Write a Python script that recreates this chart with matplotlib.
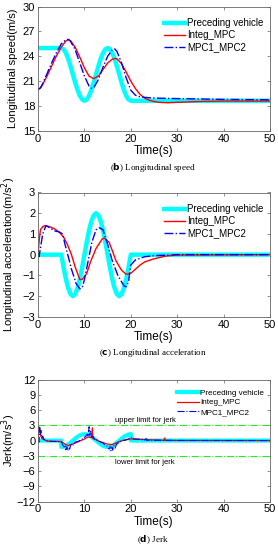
import matplotlib.pyplot as plt

plt.rcParams['font.family'] = ['Liberation Sans', 'DejaVu Sans']

# ---- (b) longitudinal speed ----
t_pv = [0, 5, 5.5, 6, 6.5, 7, 7.5, 8, 8.5, 9, 9.5, 10, 10.5, 11, 11.5, 12, 12.5,
        13, 13.5, 14, 14.5, 15, 15.5, 16, 16.5, 17, 17.5, 18, 18.5, 19, 19.5, 20, 50]
v_pv = [25, 25, 24.84, 24.39, 23.69, 22.80, 21.82, 20.84, 19.95, 19.25, 18.80, 18.64,
        18.80, 19.25, 19.95, 20.84, 21.82, 22.80, 23.69, 24.39, 24.84, 25.0, 24.84, 24.39,
        23.69, 22.80, 21.82, 20.84, 19.95, 19.25, 18.80, 18.64, 18.64]

t_int_v = [0, 0.5, 1, 2, 3, 4, 5, 6, 6.5, 7, 8, 9, 10, 11, 12, 13, 14, 15, 16, 16.7, 17,
           18, 19, 20, 21, 22, 23, 24, 25, 26, 28, 30, 35, 40, 50]
v_int = [20.0, 20.15, 20.6, 21.7, 22.9, 24.1, 25.1, 25.85, 26.0, 25.9, 25.1, 23.9, 22.6,
         21.6, 21.3, 21.6, 22.4, 23.2, 23.65, 23.75, 23.7, 23.1, 22.1, 21.0, 20.1, 19.4,
         18.95, 18.7, 18.55, 18.45, 18.4, 18.45, 18.55, 18.6, 18.6]

t_mpc_v = [0, 0.5, 1, 2, 3, 4, 5, 6, 6.5, 7, 8, 9, 10, 11, 11.5, 12, 13, 14, 15, 16, 16.5,
           17, 18, 19, 20, 21, 22, 24, 26, 30, 40, 50]
v_mpc = [20.0, 20.2, 20.7, 22.0, 23.3, 24.5, 25.5, 26.0, 26.05, 25.8, 24.8, 23.2, 21.6,
         20.4, 20.15, 20.2, 21.2, 22.7, 24.0, 24.8, 24.9, 24.6, 23.2, 21.4, 19.9, 19.3,
         19.1, 19.0, 18.95, 18.9, 18.8, 18.75]

# ---- (c) longitudinal acceleration ----
t_pv_a = [0, 5, 5.5, 6, 6.5, 7, 7.5, 8, 8.5, 9, 9.5, 10, 10.5, 11, 11.5, 12, 12.5, 13,
          13.5, 14, 14.5, 15, 15.5, 16, 16.5, 17, 17.5, 18, 18.5, 19, 19.5, 20, 50]
a_pv = [0, 0, -0.62, -1.18, -1.62, -1.90, -2.0, -1.90, -1.62, -1.18, -0.62, 0, 0.62,
        1.18, 1.62, 1.90, 2.0, 1.90, 1.62, 1.18, 0.62, 0, -0.62, -1.18, -1.62, -1.90,
        -2.0, -1.90, -1.62, -1.18, -0.62, 0, 0]

t_int_a = [0, 0.2, 0.5, 1, 1.5, 2.5, 3.5, 4.5, 5.5, 6.3, 7.2, 8, 9, 9.5, 10.5, 11.3,
           12.5, 13.8, 14.3, 15.3, 16, 16.8, 18, 19, 20, 21, 22, 23, 25, 27.5, 30, 50]
a_int = [0, 0.6, 1.2, 1.35, 1.4, 1.35, 1.25, 1.1, 0.85, 0.5, 0, -0.6, -1.2, -1.2, -0.9,
         -0.35, 0.3, 0.75, 0.8, 0.6, 0.2, -0.3, -0.75, -0.95, -0.9, -0.7, -0.5, -0.35,
         -0.2, -0.07, -0.02, 0]

t_mpc_a = [0, 0.2, 0.5, 1, 1.7, 2.5, 3.5, 4.5, 5.3, 5.8, 6.4, 7.2, 8.2, 9, 9.5, 10, 10.8,
           11.6, 12.5, 13.2, 14, 15, 16, 17.2, 18.5, 19, 19.5, 20, 21, 23, 25, 30, 50]
a_mpc = [0, -0.1, 0.3, 1.0, 1.4, 1.3, 1.15, 1.1, 1.0, 0.5, 0, -0.7, -1.4, -1.65, -1.6,
         -1.2, -0.3, 0.6, 1.2, 1.3, 1.2, 0.5, -0.3, -1.0, -1.5, -1.55, -1.3, -0.5, -0.25,
         -0.1, -0.05, 0, 0]

# ---- (d) jerk ----
t_pv_j = [0, 4.99, 5, 5.5, 6, 6.5, 7, 7.5, 8, 8.5, 9, 9.5, 10, 10.5, 11, 11.5, 12, 12.5,
          13, 13.5, 14, 14.5, 15, 15.5, 16, 16.5, 17, 17.5, 18, 18.5, 19, 19.5, 20, 20.01, 50]
j_pv = [0, 0, -1.26, -1.20, -1.02, -0.74, -0.39, 0, 0.39, 0.74, 1.02, 1.20, 1.26, 1.20,
        1.02, 0.74, 0.39, 0, -0.39, -0.74, -1.02, -1.20, -1.26, -1.20, -1.02, -0.74,
        -0.39, 0, 0.39, 0.74, 1.02, 1.20, 1.26, 0, 0]

t_int_j = [0, 0.1, 0.2, 0.4, 0.6, 1, 1.5, 2, 3, 4, 5, 5.5, 6, 6.5, 7, 8, 9, 10, 10.5, 11,
           11.5, 11.7, 11.8, 12.5, 13, 14, 15, 16, 16.5, 17.5, 18.5, 19.5, 20.5, 22, 24,
           26, 27.2, 27.3, 27.4, 30, 50]
j_int = [0, 2.7, 1.5, 2.2, 0.8, 0.3, 0.1, -0.1, -0.15, -0.15, -0.2, -0.5, -0.8, -1.0,
         -0.8, -0.5, -0.1, 0.3, 0.6, 0.7, 0.6, 2.5, 0.4, 0.2, -0.1, -0.4, -0.7, -0.8,
         -0.6, -0.2, 0.1, 0.3, 0.3, 0.25, 0.15, 0.1, 0.05, 0.5, 0.05, 0.02, 0]

t_mpc_j = [0, 0.2, 0.35, 0.5, 0.6, 0.8, 1, 1.3, 2, 3, 4, 5, 5.3, 5.6, 5.8, 6, 6.2, 6.4,
           6.6, 6.8, 7.0, 7.3, 7.6, 8, 8.5, 9, 9.5, 10, 10.3, 10.6, 10.8, 11.0, 11.1, 11.3,
           11.5, 11.8, 12.2, 12.6, 13, 13.5, 14, 14.5, 15, 15.3, 15.5, 15.7, 15.9, 16.1,
           16.3, 16.6, 16.9, 17.3, 18, 19, 19.5, 20, 20.3, 20.6, 21, 22, 23, 23.3, 23.4,
           25, 30, 50]
j_mpc = [0, -0.3, 2.6, 1.2, 2.0, 0.5, 0.9, 0.2, -0.1, -0.15, -0.2, -0.3, -0.8, -1.3,
         -0.9, -1.8, -1.2, -2.0, -1.4, -1.7, -1.0, -0.6, -0.9, -0.3, -0.2, 0.0, 0.3, 0.6,
         0.9, 1.3, 0.8, 2.7, 1.0, 1.8, 0.6, 0.9, 0.2, 0.1, 0.0, -0.3, -0.5, -0.9, -1.2,
         -1.7, -1.1, -2.0, -1.3, -1.9, -1.0, -1.5, -0.7, -0.4, -0.1, 0.1, 0.3, 0.5, 0.7,
         0.3, 0.3, 0.2, 0.1, 0.4, 0.05, 0.05, 0.02, 0]

CYAN = '#00ffff'
RED = '#ff0000'
BLUE = '#0000ff'
GREEN = '#22ee22'
SPINE = '0.4'

fig = plt.figure(figsize=(2.78, 5.5), dpi=100)
ax1 = fig.add_axes([0.137, 0.762, 0.834, 0.226])
ax2 = fig.add_axes([0.137, 0.424, 0.834, 0.226])
ax3 = fig.add_axes([0.137, 0.088, 0.834, 0.222])


def style(ax):
    for s in ax.spines.values():
        s.set_color(SPINE)
        s.set_linewidth(0.6)
    ax.tick_params(direction='in', top=True, right=True, length=2, width=0.5,
                   color=SPINE, labelsize=8, pad=2)
    ax.set_xlim(0, 50)
    ax.set_xticks([0, 10, 20, 30, 40, 50])
    ax.set_xlabel('Time(s)', fontsize=8.5, labelpad=1)
    ax.yaxis.set_label_coords(-0.088, 0.5)


# speed
ax1.plot(t_pv, v_pv, color=CYAN, lw=3.2, label='Preceding vehicle')
ax1.plot(t_int_v, v_int, color=RED, lw=1.0, label='Integ_MPC')
ax1.plot(t_mpc_v, v_mpc, color=BLUE, lw=1.0, ls='-.', label='MPC1_MPC2')
ax1.set_ylim(15, 30)
ax1.set_yticks([15, 18, 21, 24, 27, 30])
ax1.set_ylabel('Longitudinal speed(m/s)', fontsize=8)
style(ax1)
ax1.legend(loc='upper right', frameon=False, fontsize=7, handlelength=2.1,
           handletextpad=0.2, labelspacing=0.2, borderaxespad=0.3,
           bbox_to_anchor=(1.0, 0.96))

# acceleration
ax2.plot(t_pv_a, a_pv, color=CYAN, lw=3.2, label='Preceding vehicle')
ax2.plot(t_int_a, a_int, color=RED, lw=1.0, label='Integ_MPC')
ax2.plot(t_mpc_a, a_mpc, color=BLUE, lw=1.0, ls='-.', label='MPC1_MPC2')
ax2.set_ylim(-3, 3)
ax2.set_yticks([-3, -2, -1, 0, 1, 2, 3])
ax2.set_ylabel('Longitudinal acceleration(m/s$^2$)', fontsize=8)
style(ax2)
ax2.legend(loc='upper right', frameon=False, fontsize=7, handlelength=2.1,
           handletextpad=0.2, labelspacing=0.2, borderaxespad=0.3,
           bbox_to_anchor=(1.0, 0.96))

# jerk
ax3.plot(t_pv_j, j_pv, color=CYAN, lw=3.0, label='Preceding vehicle')
ax3.plot(t_int_j, j_int, color=RED, lw=0.9, label='Integ_MPC')
ax3.plot(t_mpc_j, j_mpc, color=BLUE, lw=0.8, ls='-.', label='MPC1_MPC2')
ax3.axhline(3, color=GREEN, lw=0.8, ls='-.')
ax3.axhline(-3, color=GREEN, lw=0.8, ls='-.')
ax3.text(16.5, 3.6, 'upper limit for jerk', fontsize=5.5)
ax3.text(16.5, -4.6, 'lower limit for jerk', fontsize=5.5)
ax3.set_ylim(-12, 12)
ax3.set_yticks([-12, -9, -6, -3, 0, 3, 6, 9, 12])
ax3.set_ylabel('Jerk(m/s$^3$)', fontsize=8)
style(ax3)
ax3.legend(loc='upper right', frameon=False, fontsize=5.9, handlelength=2.7,
           handletextpad=0.2, labelspacing=0.25, borderaxespad=0.3,
           bbox_to_anchor=(1.0, 0.97))

# captions
fig.text(0.55, 1 - 168 / 550, r'($\mathbf{b}$) Longitudinal speed', ha='center',
         va='center', fontsize=6.5, family='Liberation Serif')
fig.text(0.55, 1 - 353 / 550, r'($\mathbf{c}$) Longitudinal acceleration', ha='center',
         va='center', fontsize=6.5, family='Liberation Serif')
fig.text(0.55, 1 - 540 / 550, r'($\mathbf{d}$) Jerk', ha='center',
         va='center', fontsize=6.5, family='Liberation Serif')

fig.savefig('out.png', dpi=100)
